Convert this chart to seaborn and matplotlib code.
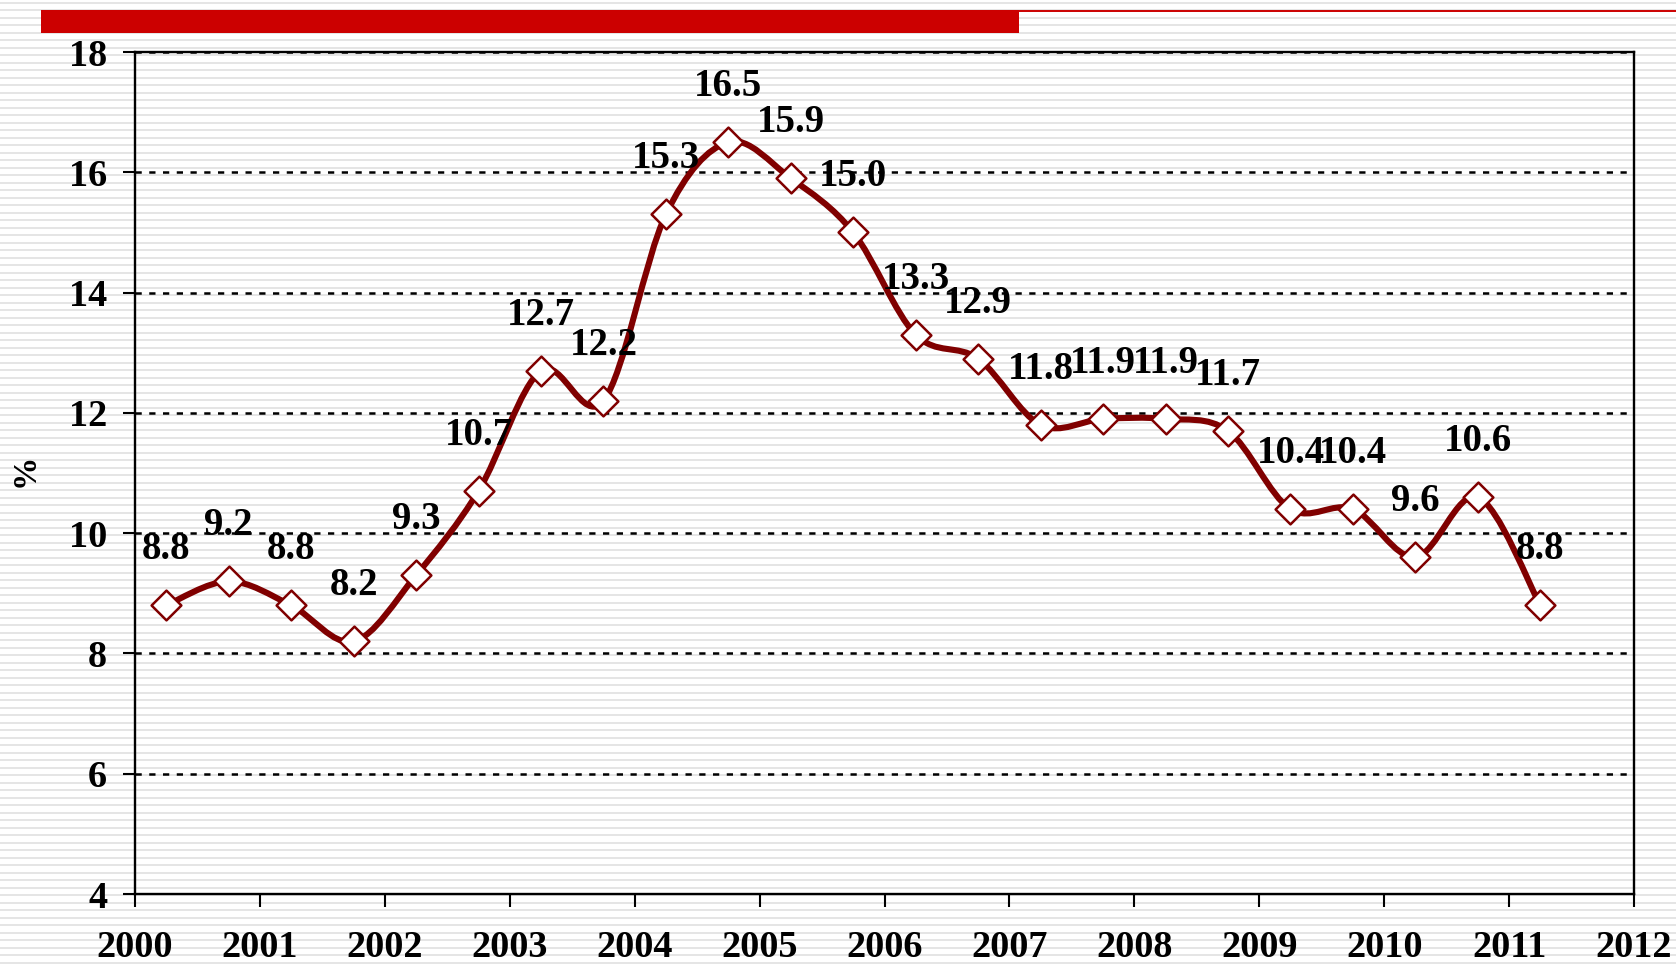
import numpy as np
import matplotlib.pyplot as plt
import seaborn as sns
from matplotlib.path import Path
from matplotlib.patches import PathPatch, Rectangle
from matplotlib.lines import Line2D

# half-year readings, %
periods = np.arange(2000.25, 2011.26, 0.5)
rate = [8.8, 9.2, 8.8, 8.2, 9.3, 10.7, 12.7, 12.2, 15.3, 16.5, 15.9, 15.0,
        13.3, 12.9, 11.8, 11.9, 11.9, 11.7, 10.4, 10.4, 9.6, 10.6, 8.8]
year_ticks = list(range(2000, 2013))
pct_ticks = [4, 6, 8, 10, 12, 14, 16, 18]

sns.set_style("ticks")
plt.rcParams['font.family'] = ['Liberation Serif', 'DejaVu Serif']
plt.rcParams['font.weight'] = 'bold'
plt.rcParams['text.color'] = 'black'
plt.rcParams['xtick.color'] = 'black'
plt.rcParams['ytick.color'] = 'black'

W, H = 1676, 966
fig = plt.figure(figsize=(W / 100, H / 100), dpi=100)
fig.patch.set_facecolor('white')

# striped backdrop
bg = fig.add_axes([0, 0, 1, 1], zorder=0)
bg.set_xlim(0, W)
bg.set_ylim(H, 0)
bg.axis('off')
bg.hlines(np.arange(2.5, H, 7.5), 0, W, color='#e3e3e3', lw=1.3, zorder=1)
# red header bar and thin rule
bg.add_patch(Rectangle((41, 10), 978, 23, color='#cc0000', lw=0, zorder=2))
bg.add_line(Line2D([1019, W], [11, 11], color='#cc0000', lw=1.4, zorder=2))

ax = fig.add_axes([135 / W, 1 - 894 / H, (1634 - 135) / W, (894 - 52) / H], zorder=1)
ax.patch.set_alpha(0)

# smooth curve (cubic bezier through the points, like the spreadsheet "smoothed line")
pts = np.column_stack([periods, rate])
ext = np.vstack([pts[0], pts, pts[-1]])
verts = [tuple(pts[0])]
codes = [Path.MOVETO]
for i in range(len(pts) - 1):
    p0, p1, p2, p3 = ext[i], ext[i + 1], ext[i + 2], ext[i + 3]
    c1 = p1 + (p2 - p0) / 6
    c2 = p2 - (p3 - p1) / 6
    verts += [tuple(c1), tuple(c2), tuple(p2)]
    codes += [Path.CURVE4] * 3
ax.add_patch(PathPatch(Path(verts, codes), fill=False, edgecolor='#800000',
                       lw=4.4, capstyle='round', joinstyle='round', zorder=3))

sns.scatterplot(x=periods, y=rate, marker='D', s=230, color='white',
                edgecolor='#800000', linewidth=1.8, zorder=4, ax=ax, legend=False)

for x, v in zip(periods, rate):
    ax.annotate(f"{v:.1f}", (x, v), xytext=(0, 40), textcoords='offset points',
                ha='center', va='center', fontsize=28, fontweight='bold',
                color='black', zorder=5)

ax.set_xlim(2000, 2012)
ax.set_ylim(4, 18)
ax.set_xticks(year_ticks)
ax.set_yticks(pct_ticks)
ax.tick_params(axis='both', direction='out', length=9, width=1.5, color='black',
               labelcolor='black', labelsize=27.5)
ax.tick_params(axis='x', pad=17)
ax.tick_params(axis='y', pad=11)
for lab in ax.get_xticklabels() + ax.get_yticklabels():
    lab.set_fontweight('bold')
ax.yaxis.grid(True, color='black', linestyle=(0, (2.5, 3)), lw=1.8)
for side in ['left', 'bottom', 'top', 'right']:
    ax.spines[side].set_visible(True)
    ax.spines[side].set_color('black')
    ax.spines[side].set_linewidth(1.7)
ax.set_xlabel('')
ax.set_ylabel('')

fig.text(25 / W, 1 - 470 / H, '%', rotation=90, ha='center', va='center',
         fontsize=24, fontweight='bold', color='black')

fig.savefig('out.png', dpi=100)
